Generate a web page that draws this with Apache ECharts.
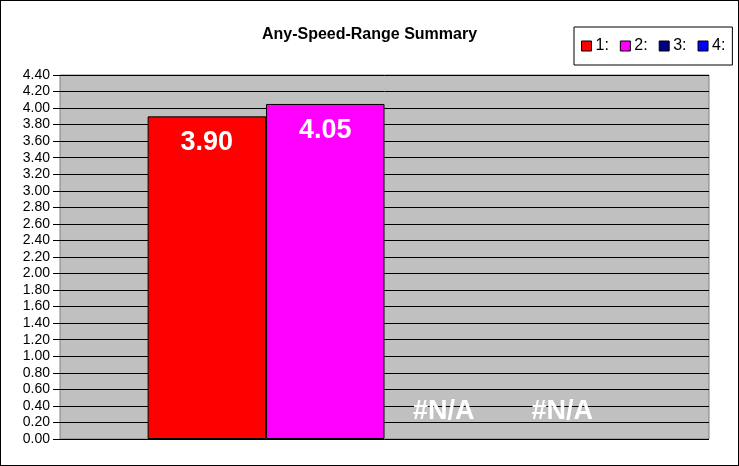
<!DOCTYPE html>
<html>
<head>
<meta charset="utf-8">
<script src="https://cdn.jsdelivr.net/npm/echarts@6/dist/echarts.min.js"></script>
<style>
  body { margin: 0; background: #fff; }
  #chart { width: 737px; height: 464px; border: 1px solid #000; }
</style>
</head>
<body>
<div id="chart"></div>
<script>
// data
var categories = [''];
var seriesNames = ['1:', '2:', '3:', '4:'];
var seriesValues = [3.90, 4.05, null, null];   // null = #N/A
var seriesColors = ['#ff0000', '#ff00ff', '#000080', '#0000ff'];
var yTicks = { min: 0, max: 4.4, step: 0.2 };

var myChart = echarts.init(document.getElementById('chart'));

var series = seriesNames.map(function (name, i) {
  var v = seriesValues[i];
  var missing = v === null;
  return {
    name: name,
    type: 'bar',
    barGap: 0,
    barCategoryGap: '27%',
    // missing values get an invisible zero bar that only carries the #N/A text
    data: [missing ? { value: 0, itemStyle: { color: 'rgba(0,0,0,0)', borderWidth: 0 } } : v],
    itemStyle: {
      color: seriesColors[i],
      borderColor: '#000',
      borderWidth: 1
    },
    label: {
      show: true,
      position: missing ? 'top' : 'insideTop',
      distance: missing ? 14 : 13,
      color: '#fff',
      fontWeight: 'bold',
      fontSize: 27,
      fontFamily: 'Liberation Sans',
      formatter: function (p) { return missing ? '#N/A' : p.value.toFixed(2); }
    },
    silent: true
  };
});

var option = {
  animation: false,
  textStyle: { fontFamily: 'Liberation Sans' },
  tooltip: { show: false },
  title: {
    text: 'Any-Speed-Range Summary',
    left: 'center',
    top: 21,
    textStyle: { fontSize: 16, fontWeight: 'bold', color: '#000', fontFamily: 'Liberation Sans' }
  },
  legend: {
    data: seriesNames.map(function (n, i) {
      return { name: n, itemStyle: { color: seriesColors[i], borderColor: '#000', borderWidth: 1 } };
    }),
    left: 573,
    top: 26,
    padding: [11, 7, 11, 7],
    itemWidth: 10,
    itemHeight: 10,
    itemGap: 11,
    icon: 'rect',
    backgroundColor: '#fff',
    borderColor: '#000',
    borderWidth: 1,
    selectedMode: false,
    textStyle: { fontSize: 16, color: '#000', padding: [0, 0, 0, -1] }
  },
  grid: {
    left: 59,
    right: 29,
    top: 74,
    bottom: 26,
    show: true,
    backgroundColor: '#c0c0c0',
    borderColor: '#808080',
    borderWidth: 1
  },
  xAxis: {
    type: 'category',
    data: categories,
    axisLine: { show: false },
    axisTick: { show: false },
    axisLabel: { show: false },
    splitLine: { show: false }
  },
  yAxis: {
    type: 'value',
    min: yTicks.min,
    max: yTicks.max,
    interval: yTicks.step,
    axisLine: { show: false, onZero: false },
    axisTick: { show: true, length: 7, lineStyle: { color: '#000' } },
    axisLabel: {
      color: '#000',
      fontSize: 14,
      margin: 10,
      formatter: function (v) { return v.toFixed(2); }
    },
    splitLine: { lineStyle: { color: '#000', width: 1 } }
  },
  series: series
};

myChart.setOption(option);
</script>
</body>
</html>
